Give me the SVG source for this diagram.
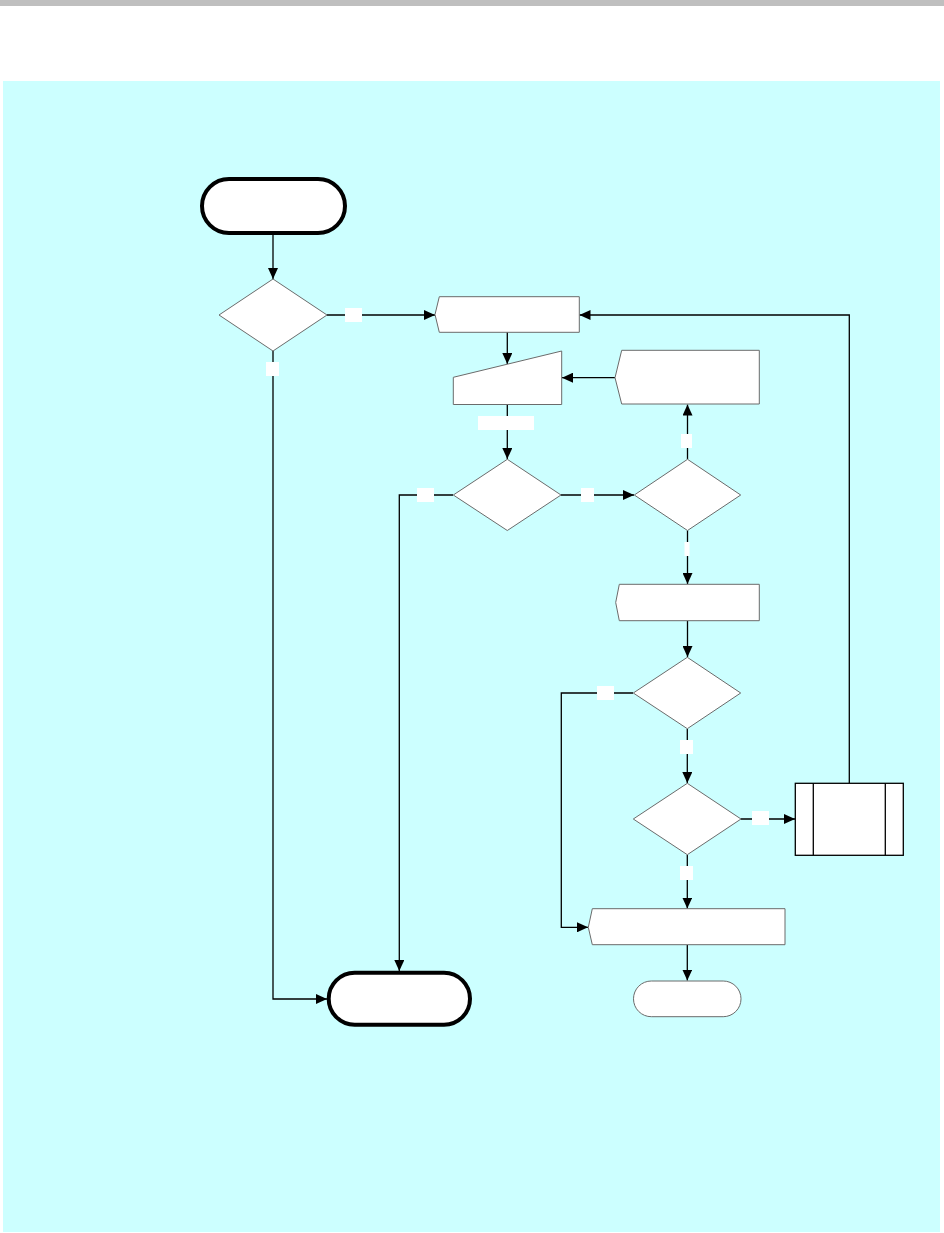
<svg xmlns="http://www.w3.org/2000/svg" width="944" height="1233" viewBox="0 0 944 1233">
<style>
.shape{fill:#fff;stroke:#6b6b6b;stroke-width:1}
.thick{fill:#fff;stroke:#000;stroke-width:4}
.pp{fill:#fff;stroke:#000;stroke-width:1.3}
.conn{fill:none;stroke:#000;stroke-width:1.3}
.lbl{fill:#fff;stroke:none}
</style>
<defs>
<marker id="arr" markerUnits="userSpaceOnUse" markerWidth="11" markerHeight="10" refX="11" refY="5" orient="auto">
<path d="M0,0 L11,5 L0,10 z" fill="#000"/>
</marker>
</defs>
<rect x="0" y="0" width="944" height="6" fill="#bfbfbf"/>
<rect x="3" y="81" width="937" height="1151" fill="#ccffff"/>
<g id="connectors">
<path class="conn" d="M273,235 V279" marker-end="url(#arr)"/>
<path class="conn" d="M327,315 H435" marker-end="url(#arr)"/>
<path class="conn" d="M273,351 V999 H327" marker-end="url(#arr)"/>
<path class="conn" d="M507.3,332 V364" marker-end="url(#arr)"/>
<path class="conn" d="M615,377.7 H562" marker-end="url(#arr)"/>
<path class="conn" d="M507.3,404.5 V459" marker-end="url(#arr)"/>
<path class="conn" d="M453,495 H399.3 V971" marker-end="url(#arr)"/>
<path class="conn" d="M561,495 H634" marker-end="url(#arr)"/>
<path class="conn" d="M687.5,459 V404.5" marker-end="url(#arr)"/>
<path class="conn" d="M687.5,530.5 V584" marker-end="url(#arr)"/>
<path class="conn" d="M687.5,621 V657" marker-end="url(#arr)"/>
<path class="conn" d="M633,693 H561.3 V927.3 H588" marker-end="url(#arr)"/>
<path class="conn" d="M687.3,729 V783" marker-end="url(#arr)"/>
<path class="conn" d="M741,819 H795" marker-end="url(#arr)"/>
<path class="conn" d="M849.3,783 V315 H579.5" marker-end="url(#arr)"/>
<path class="conn" d="M687.3,855 V908.5" marker-end="url(#arr)"/>
<path class="conn" d="M687.3,945 V980.5" marker-end="url(#arr)"/>
<rect class="lbl" x="345" y="308" width="17" height="14"/>
<rect class="lbl" x="266" y="362" width="13" height="14"/>
<rect class="lbl" x="478" y="416" width="56" height="14"/>
<rect class="lbl" x="417" y="488" width="17" height="14"/>
<rect class="lbl" x="581" y="488" width="13" height="14"/>
<rect class="lbl" x="681" y="434" width="11" height="14"/>
<rect class="lbl" x="684.5" y="542" width="5" height="14"/>
<rect class="lbl" x="597" y="686" width="17" height="14"/>
<rect class="lbl" x="680" y="740" width="13" height="14"/>
<rect class="lbl" x="752" y="811" width="17" height="14"/>
<rect class="lbl" x="680" y="866" width="13" height="14"/>
</g>
<g id="start"><rect class="thick" x="202" y="179" width="143" height="54" rx="27"/></g>
<g id="decision1"><polygon class="shape" points="273,279 327,315 273,351 219,315"/></g>
<g id="display1"><polygon class="shape" points="439.3,296.7 579.3,296.7 579.3,332.3 439.3,332.3 435,314.5"/></g>
<g id="manualInput"><polygon class="shape" points="453.3,377.3 561.7,351 561.7,404.5 453.3,404.5"/></g>
<g id="display2"><polygon class="shape" points="621.7,350.3 759.3,350.3 759.3,404 621.7,404 615,377.7"/></g>
<g id="decision2"><polygon class="shape" points="507.3,459.3 561,495 507.3,530.5 453.3,495"/></g>
<g id="decision3"><polygon class="shape" points="687.5,459.3 740.7,495 687.5,530.5 634.3,495"/></g>
<g id="display3"><polygon class="shape" points="619.3,584.3 759.3,584.3 759.3,620.7 619.3,620.7 615.7,602.5"/></g>
<g id="decision4"><polygon class="shape" points="687.3,657.3 740.7,693 687.3,728.7 633.3,693"/></g>
<g id="decision5"><polygon class="shape" points="687.3,783.3 741,819 687.3,854.7 633.3,819"/></g>
<g id="predefined">
<rect class="pp" x="795.3" y="783.3" width="108" height="72"/>
<line class="pp" x1="813.3" y1="783.3" x2="813.3" y2="855.3"/>
<line class="pp" x1="885.3" y1="783.3" x2="885.3" y2="855.3"/>
</g>
<g id="display4"><polygon class="shape" points="592.3,908.7 785,908.7 785,944.7 592.3,944.7 588.3,927.3"/></g>
<g id="terminator"><rect class="shape" x="633.5" y="981" width="107.5" height="35.7" rx="17.8"/></g>
<g id="end"><rect class="thick" x="328.7" y="972.7" width="141.3" height="52" rx="26"/></g>
</svg>
